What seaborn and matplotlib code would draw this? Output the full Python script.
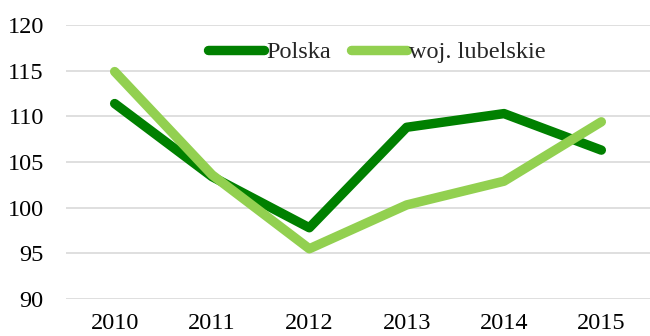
import matplotlib
matplotlib.use("Agg")
import matplotlib.pyplot as plt
import seaborn as sns
import pandas as pd

years = ["2010", "2011", "2012", "2013", "2014", "2015"]
polska = [111.4, 103.4, 97.8, 108.8, 110.3, 106.3]
lubelskie = [114.9, 103.6, 95.5, 100.3, 102.9, 109.4]
series_names = ["Polska", "woj. lubelskie"]
colors = ["#008000", "#92D050"]
yticks = [90, 95, 100, 105, 110, 115, 120]

sns.set_style("white")
plt.rcParams["font.family"] = ["Liberation Serif", "DejaVu Serif"]

df = pd.DataFrame({
    "rok": years * 2,
    "wartosc": polska + lubelskie,
    "seria": [series_names[0]] * len(years) + [series_names[1]] * len(years),
})

fig = plt.figure(figsize=(6.5, 3.36), dpi=100)
ax = fig.add_axes([66 / 650, 1 - 299 / 336, 1 - 66 / 650, (299 - 25) / 336])

sns.lineplot(data=df, x="rok", y="wartosc", hue="seria", hue_order=series_names,
             palette=colors, linewidth=6.8, solid_capstyle="round",
             legend=False, ax=ax, zorder=3)

ax.set_xlim(-0.5, len(years) - 0.5)
ax.set_ylim(90, 120)
ax.set_yticks(yticks)
ax.set_xlabel("")
ax.set_ylabel("")
ax.grid(axis="y", color="#d9d9d9", linewidth=1.2, zorder=0)
ax.grid(axis="x", visible=False)
for s in ax.spines.values():
    s.set_visible(False)
ax.tick_params(axis="both", length=0, labelsize=17.5, colors="#000000")
ax.tick_params(axis="y", pad=16)
ax.tick_params(axis="x", pad=10)

lines = ax.get_lines()[:2]
leg = ax.legend(lines, series_names, loc="center", ncol=2,
                frameon=False, fontsize=17.5, handlelength=2.3, handletextpad=0.1,
                columnspacing=0.8,
                bbox_to_anchor=((377 - 66) / 584, (299 - 52) / 274))
for h in leg.get_lines():
    h.set_solid_capstyle("round")
    h.set_linewidth(6.8)

fig.savefig("out.png", dpi=100)
